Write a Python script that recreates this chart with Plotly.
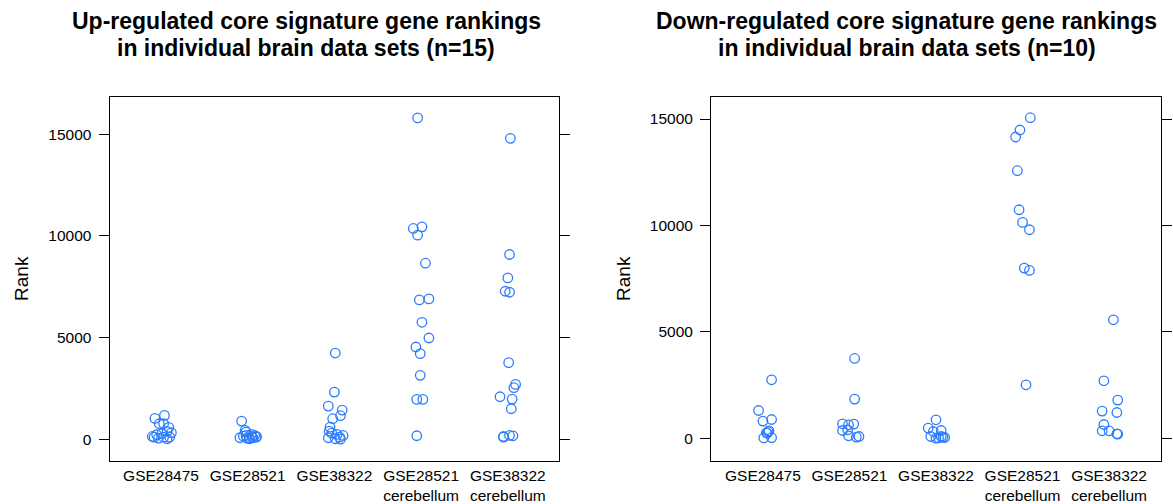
import plotly.graph_objects as go

categories = ["GSE28475", "GSE28521", "GSE38322", "GSE28521<br>cerebellum", "GSE38322<br>cerebellum"]
y_ticks = [0, 5000, 10000, 15000]

# Up-regulated (n=15 per data set): ranks and horizontal jitter (category units)
up_vals = [
    [1020, 1167, 758, 758, 576, 379, 217, 133, 266, 315, 49, 99, 20, 99, 99],
    [890, 430, 345, 69, 182, 232, 182, 99, 69, 69, 148, 20, 120, 49, 130],
    [4236, 2315, 1626, 1429, 1153, 1005, 591, 394, 296, 69, 20, 99, 182, 232, 0],
    [15800, 10443, 10364, 10034, 8655, 6897, 6848, 5749, 4976, 4532, 4206, 3138, 1956, 1956, 167],
    [14798, 9084, 7931, 7276, 7227, 3763, 2694, 2530, 2086, 1970, 1496, 181, 165, 131, 99],
]
up_jit = [
    [-0.07, 0.04, -0.02, 0.03, 0.09, 0.07, -0.05, -0.10, 0.01, 0.12, -0.03, 0.03, 0.07, 0.10, -0.08],
    [-0.07, -0.03, -0.02, -0.09, -0.02, 0.04, 0.08, 0.10, 0.02, 0.06, -0.05, 0.02, 0.05, -0.01, 0.10],
    [0.01, 0.0, -0.07, 0.09, 0.07, -0.02, -0.05, -0.06, -0.03, -0.07, 0.01, 0.06, 0.10, 0.03, 0.07],
    [-0.04, 0.01, -0.09, -0.04, 0.05, 0.09, -0.02, 0.01, 0.09, -0.06, -0.01, -0.01, -0.05, 0.02, -0.05],
    [0.03, 0.02, 0.0, -0.03, 0.02, 0.01, 0.09, 0.07, -0.09, 0.05, 0.04, 0.02, 0.06, -0.05, -0.05],
]

# Down-regulated (n=10 per data set)
down_vals = [
    [2741, 1298, 799, 875, 343, 249, 300, 10, 20, 230],
    [3743, 1834, 672, 625, 658, 357, 390, 108, 47, 75],
    [860, 470, 310, 357, 75, 0, 75, 47, 28, 10],
    [15061, 14482, 14153, 12569, 10735, 10138, 9794, 7993, 7881, 2506],
    [5562, 2694, 1787, 1270, 1204, 640, 343, 343, 202, 188],
]
down_jit = [
    [0.10, -0.05, 0.0, 0.10, 0.07, 0.04, 0.06, 0.01, 0.10, 0.05],
    [0.06, 0.06, -0.08, -0.01, 0.05, -0.08, -0.02, -0.01, 0.08, 0.11],
    [0.0, -0.09, -0.03, 0.06, -0.06, 0.0, 0.06, 0.08, 0.10, 0.03],
    [0.09, -0.03, -0.08, -0.06, -0.04, 0.0, 0.08, 0.02, 0.08, 0.04],
    [0.05, -0.06, 0.10, -0.08, 0.09, -0.06, -0.08, 0.0, 0.09, 0.10],
]

titles = [
    ["Up-regulated core signature gene rankings", "in individual brain data sets (n=15)"],
    ["Down-regulated core signature gene rankings", "in individual brain data sets (n=10)"],
]

BLUE = "#2b7bff"
FONT = "Liberation Sans, Arial, Helvetica, sans-serif"

fig = go.Figure()

def add_panel(vals, jits, xa, ya):
    xs, ys = [], []
    for i, (v, j) in enumerate(zip(vals, jits)):
        for vv, jj in zip(v, j):
            xs.append(i + 1 + jj)
            ys.append(vv)
    fig.add_trace(go.Scatter(
        x=xs, y=ys, mode="markers", xaxis=xa, yaxis=ya, showlegend=False,
        marker=dict(symbol="circle-open", size=9.5, color=BLUE, line=dict(width=1.3, color=BLUE)),
    ))

add_panel(up_vals, up_jit, "x", "y")
add_panel(down_vals, down_jit, "x2", "y2")

W, H = 1173, 504
ydom = [1 - 460.5 / H, 1 - 97 / H]

xcommon = dict(
    tickmode="array", tickvals=[1, 2, 3, 4, 5], ticktext=categories,
    showline=True, linecolor="black", linewidth=1, mirror=True,
    ticks="", showgrid=False, zeroline=False, ticklabelstandoff=1, automargin=False,
    tickfont=dict(family=FONT, size=15.5, color="black"),
)
ycommon = dict(
    tickmode="array", tickvals=y_ticks, ticktext=[str(t) for t in y_ticks],
    showline=True, linecolor="black", linewidth=1, mirror="allticks",
    ticks="outside", ticklen=10, tickwidth=1, tickcolor="black",
    showgrid=False, zeroline=False, ticklabelstandoff=4, automargin=False,
    tickfont=dict(family=FONT, size=15.5, color="black"),
    title=dict(text="Rank", font=dict(family=FONT, size=19, color="black"), standoff=14),
)

fig.update_layout(
    width=W, height=H,
    margin=dict(l=0, r=0, t=0, b=0),
    paper_bgcolor="white", plot_bgcolor="white",
    xaxis=dict(domain=[109.5 / W, 559.3 / W], range=[0.406, 5.594], anchor="y", **xcommon),
    yaxis=dict(domain=ydom, range=[-1050, 16830], anchor="x", **ycommon),
    xaxis2=dict(domain=[711 / W, 1161 / W], range=[0.4, 5.6], anchor="y2", **xcommon),
    yaxis2=dict(domain=ydom, range=[-1053, 16034], anchor="x2", **ycommon),
)

for lines, cx in zip(titles, [306, 907]):
    for line, cy in zip(lines, [21, 48]):
        fig.add_annotation(
            text="<b>" + line + "</b>", x=cx / W, y=1 - cy / H, xref="paper", yref="paper",
            xanchor="center", yanchor="middle", showarrow=False, align="center",
            font=dict(family=FONT, size=23, color="black"),
        )

fig.write_html("out.html")
